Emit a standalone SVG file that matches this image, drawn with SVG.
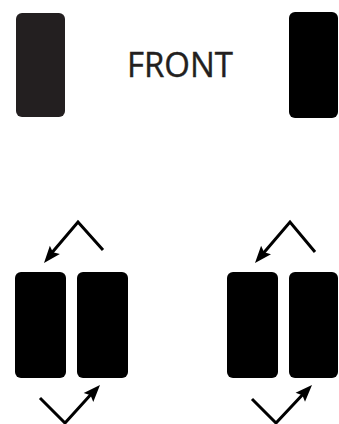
<svg xmlns="http://www.w3.org/2000/svg" xmlns:xlink="http://www.w3.org/1999/xlink" width="339" height="424" viewBox="0 0 339 424">
<style>
.pad{fill:#000}
.pad2{fill:#231f20}
.conn{fill:none;stroke:#000;stroke-width:3;stroke-linejoin:miter}
.head{fill:#000}
.lbl{font-family:"Open Sans","Liberation Sans",sans-serif;font-size:34px;fill:#231f20;stroke:#231f20;stroke-width:0.4}
</style>
<defs>
<path id="ah" d="M0,0 L-17,-6.5 L-14,0 L-17,6.5 Z"/>
</defs>
<rect width="339" height="424" fill="#fff"/>
<g id="front-left"><rect class="pad2" x="16" y="13" width="49" height="104" rx="6"/></g>
<g id="front-label"><text class="lbl" x="127" y="77" textLength="106" lengthAdjust="spacingAndGlyphs">FRONT</text></g>
<g id="front-right"><rect class="pad" x="289" y="12" width="49" height="106" rx="6"/></g>
<g id="pair-left-a"><rect class="pad" x="15" y="272" width="51" height="106" rx="6"/></g>
<g id="pair-left-b"><rect class="pad" x="77" y="272" width="51" height="106" rx="6"/></g>
<g id="pair-right-a"><rect class="pad" x="227" y="272" width="51" height="106" rx="6"/></g>
<g id="pair-right-b"><rect class="pad" x="289" y="272" width="49" height="106" rx="6"/></g>
<g id="connectors">
<path class="conn" d="M103,250 L78,222 L50,255"/>
<use class="head" href="#ah" xlink:href="#ah" transform="translate(44,263) rotate(129.7)"/>
<path class="conn" d="M40,398 L65,423 L94,391"/>
<use class="head" href="#ah" xlink:href="#ah" transform="translate(100,385) rotate(-47.4)"/>
<path class="conn" d="M315,252 L290,222 L261,256"/>
<use class="head" href="#ah" xlink:href="#ah" transform="translate(255,263) rotate(130.5)"/>
<path class="conn" d="M252,399 L276,423 L306,391"/>
<use class="head" href="#ah" xlink:href="#ah" transform="translate(312,385) rotate(-46.5)"/>
</g>
</svg>
